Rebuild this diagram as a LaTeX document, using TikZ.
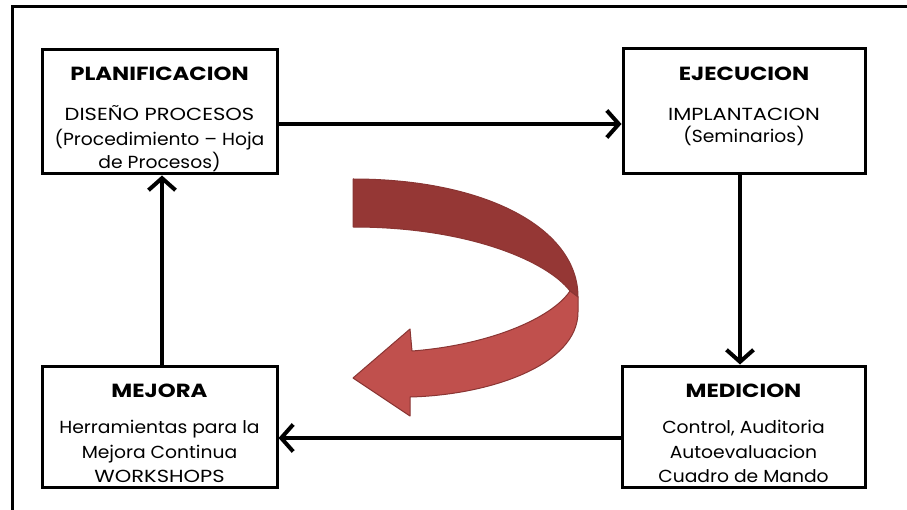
\documentclass[tikz,border=0pt]{standalone}
\usepackage{fontspec}
\setmainfont[FakeStretch=1.07]{Poppins}
\newfontfamily\widecaps[FakeStretch=1.2]{Poppins}
\usetikzlibrary{arrows.meta,calc}
\definecolor{ribbondark}{HTML}{953735}
\definecolor{ribbonlight}{HTML}{C0504D}
\definecolor{ribbonedge}{HTML}{8A3533}
\begin{document}
\begin{tikzpicture}[x=1pt,y=-1pt,
  stagebox/.style={draw=black,line width=3pt,fill=white,inner sep=0pt},
  heading/.style={font=\widecaps\fontsize{19}{22}\selectfont\bfseries,anchor=base,inner sep=0pt},
  bodyline/.style={font=\fontsize{17.5}{20}\selectfont,anchor=base,inner sep=0pt},
  capsline/.style={font=\widecaps\fontsize{17.5}{20}\selectfont,anchor=base,inner sep=0pt},
  conn/.style={line width=4pt,-{Straight Barb[length=12pt,width=27pt]}},
  frame/.style={line width=3pt},
  ribbon/.style={draw=ribbonedge,line width=1pt,line join=round}]
\useasboundingbox[fill=white] (0,0) rectangle (907,510);

% open frame: only its top and left edges fall inside the page
\draw[frame] (12,515) -- (12,7) -- (915,7);

% the four stages of the cycle
\node[stagebox,minimum width=235pt,minimum height=124pt] (plan) at (159.5,112) {};
\node[stagebox,minimum width=242pt,minimum height=125pt] (ejec) at (744,111.5) {};
\node[stagebox,minimum width=235pt,minimum height=121pt] (mej) at (159.5,426.5) {};
\node[stagebox,minimum width=243pt,minimum height=121pt] (med) at (743.5,426.5) {};

% PLANIFICACION
\node[heading]  (planT)  at ($(plan.north)+(0,32)$)  {PLANIFICACION};
\node[capsline] (planA)  at ($(plan.north)+(0,72)$)  {DISEÑO PROCESOS};
\node[bodyline] (planB)  at ($(plan.north)+(0,97)$)  {(Procedimiento -- Hoja};
\node[bodyline] (planC)  at ($(plan.north)+(0,120)$) {de Procesos)};

% EJECUCION
\node[heading]  (ejecT)  at ($(ejec.north)+(0,33)$)  {EJECUCION};
\node[capsline] (ejecA)  at ($(ejec.north)+(0,73)$)  {IMPLANTACION};
\node[bodyline] (ejecB)  at ($(ejec.north)+(0,95)$)  {(Seminarios)};

% MEJORA
\node[heading]  (mejT)   at ($(mej.north)+(0,33)$)   {MEJORA};
\node[bodyline] (mejA)   at ($(mej.north)+(0,69)$)   {Herramientas para la};
\node[bodyline] (mejB)   at ($(mej.north)+(0,94)$)   {Mejora Continua};
\node[capsline] (mejC)   at ($(mej.north)+(0,118)$)  {WORKSHOPS};

% MEDICION
\node[heading]  (medT)   at ($(med.north)+(0,33)$)   {MEDICION};
\node[bodyline] (medA)   at ($(med.north)+(0,69)$)   {Control, Auditoria};
\node[bodyline] (medB)   at ($(med.north)+(0,94)$)   {Autoevaluacion};
\node[bodyline] (medC)   at ($(med.north)+(0,118)$)  {Cuadro de Mando};

% connectors around the cycle
\draw[conn] ([yshift=-12pt]plan.east) -- ([yshift=-12pt]plan.east -| ejec.west);
\draw[conn] ([xshift=-4pt]ejec.south) -- ([xshift=-4pt]ejec.south |- med.north);
\draw[conn] ([yshift=-11.5pt]med.west) -- ([yshift=-11.5pt]med.west -| mej.east);
\draw[conn] ([xshift=2.5pt]mej.north) -- ([xshift=2.5pt]mej.north |- plan.south);

% twisted curved arrow in the middle
\coordinate (tailTop) at (353,179);
\coordinate (tailBot) at (353,227);
\coordinate (twistIn) at (570,291);
\coordinate (twistOut) at (578,297);
\filldraw[ribbon,fill=ribbondark] (tailTop) .. controls (485,179) and (578,228) .. (twistOut)
   -- (twistIn) .. controls (548,262) and (470,227) .. (tailBot) -- cycle;
\filldraw[ribbon,fill=ribbonlight] (twistIn) -- (twistOut) -- (578,312)
   .. controls (578,365) and (490,395) .. (410,397)
   -- (410,416) -- (353,378) -- (410,329) -- (412,351)
   .. controls (490,345) and (552,318) .. (twistIn) -- cycle;
\end{tikzpicture}
\end{document}
